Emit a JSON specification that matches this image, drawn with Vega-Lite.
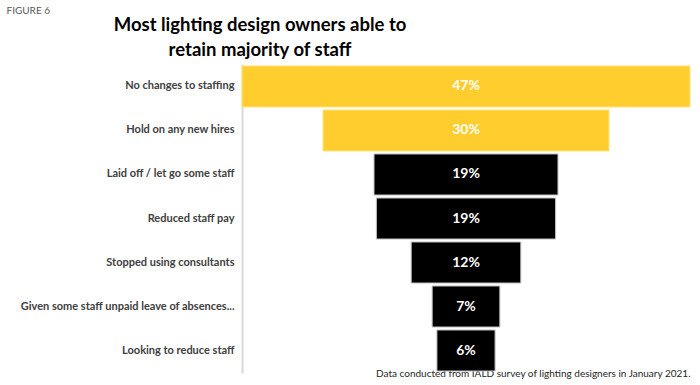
{
  "$schema": "https://vega.github.io/schema/vega-lite/v6.json",
  "autosize": "none",
  "width": 448,
  "height": 309,
  "padding": {"left": 242, "top": 64, "right": 10, "bottom": 12},
  "background": "white",
  "config": {"view": {"stroke": null}},
  "title": {
    "text": ["Most lighting design owners able to", "retain majority of staff"],
    "anchor": "middle",
    "dx": -206,
    "offset": -54,
    "font": "Lato",
    "fontSize": 18.5,
    "fontWeight": "bold",
    "color": "#000000",
    "lineHeight": 25
  },
  "data": {
    "values": [
      {"label": "No changes to staffing", "value": 47, "text": "47%", "group": "a"},
      {"label": "Hold on any new hires", "value": 30, "text": "30%", "group": "a"},
      {"label": "Laid off / let go some staff", "value": 19.3, "text": "19%", "group": "b"},
      {"label": "Reduced staff pay", "value": 18.8, "text": "19%", "group": "b"},
      {"label": "Stopped using consultants", "value": 11.5, "text": "12%", "group": "b"},
      {"label": "Given some staff unpaid leave of absences...", "value": 7.1, "text": "7%", "group": "b"},
      {"label": "Looking to reduce staff", "value": 6.1, "text": "6%", "group": "b"}
    ]
  },
  "transform": [
    {"calculate": "-datum.value/2", "as": "lo"},
    {"calculate": "datum.value/2", "as": "hi"},
    {"calculate": "0", "as": "mid"}
  ],
  "encoding": {
    "y": {
      "field": "label",
      "type": "nominal",
      "sort": null,
      "scale": {"paddingInner": 0.068, "paddingOuter": 0.045},
      "axis": {
        "title": "FIGURE 6",
        "titleAngle": 0,
        "titleX": -236,
        "titleY": -51,
        "titleAlign": "left",
        "titleBaseline": "alphabetic",
        "titleFont": "Lato",
        "titleFontSize": 10,
        "titleFontWeight": "normal",
        "titleColor": "#595959",
        "ticks": false,
        "domainColor": "#D9D9D9",
        "domainWidth": 2,
        "labelPadding": 8,
        "labelFont": "Lato",
        "labelFontSize": 11,
        "labelFontWeight": "bold",
        "labelColor": "#404040",
        "labelLimit": 300
      }
    }
  },
  "layer": [
    {
      "mark": {"type": "bar", "strokeWidth": 1},
      "encoding": {
        "x": {
          "field": "lo",
          "type": "quantitative",
          "scale": {"domain": [-23.5, 23.5], "nice": false, "zero": false},
          "axis": {
            "title": "Data conducted from IALD survey of lighting designers in January 2021.",
            "titleAnchor": "end",
            "titleAlign": "right",
            "titleX": 448,
            "titleY": 3,
            "titleBaseline": "alphabetic",
            "titleFont": "Lato",
            "titleFontSize": 10,
            "titleFontWeight": "normal",
            "titleColor": "#262626",
            "labels": false,
            "ticks": false,
            "domain": false,
            "grid": false
          }
        },
        "x2": {"field": "hi"},
        "color": {
          "field": "group",
          "type": "nominal",
          "scale": {"domain": ["a", "b"], "range": ["#FFCD2E", "#000000"]},
          "legend": null
        },
        "stroke": {
          "field": "group",
          "type": "nominal",
          "scale": {"domain": ["a", "b"], "range": ["#FFE27A", "#BFBFBF"]},
          "legend": null
        }
      }
    },
    {
      "mark": {"type": "text", "color": "white", "fontWeight": "bold", "fontSize": 14, "font": "Lato", "baseline": "middle"},
      "encoding": {
        "x": {"field": "mid", "type": "quantitative"},
        "text": {"field": "text"}
      }
    }
  ]
}
